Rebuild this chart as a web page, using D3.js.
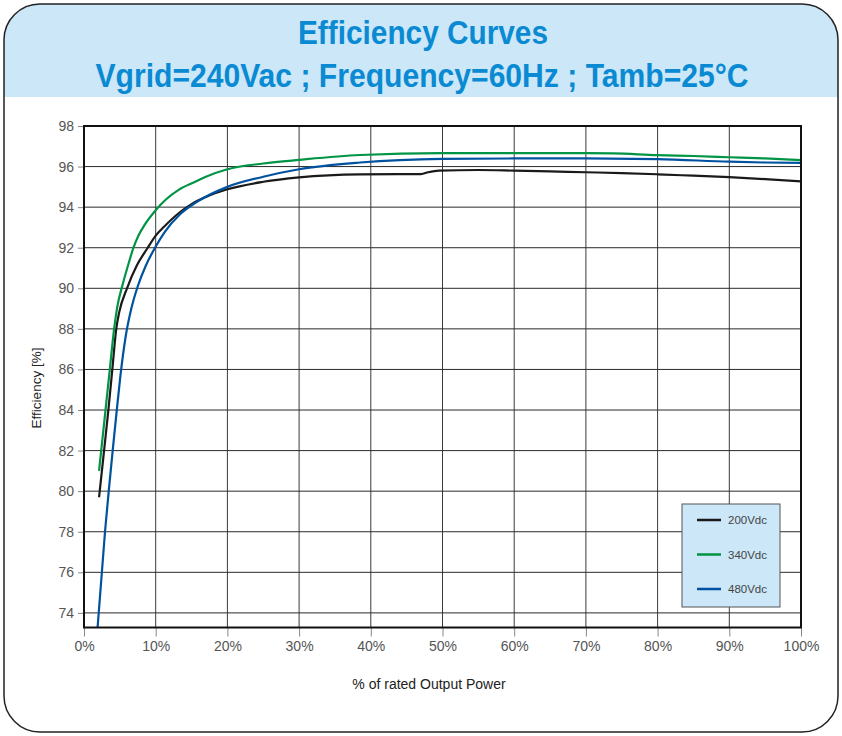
<!DOCTYPE html>
<html><head><meta charset="utf-8">
<script src="https://cdn.jsdelivr.net/npm/d3@7"></script>
<style>body{margin:0;background:#fff}svg{display:block}</style>
</head><body>
<svg id="c" width="842" height="736"></svg>
<script>
const xTicks = [0,10,20,30,40,50,60,70,80,90,100];
const yTicks = [74,76,78,80,82,84,86,88,90,92,94,96,98];
const seriesNames = ["200Vdc","340Vdc","480Vdc"];
const seriesColors = ["#1a1a1a","#009444","#0052a0"];
const power200 = [2.1,2.8,3.4,3.95,4.5,4.9,6.0,7.4,8.8,10,11.2,13.2,15,17,20,25,30,38.5,44,47,48,49.5,55,60,65,70,75,80,85,90,95,100];
const eff200   = [79.7,82,84,86,88,88.8,90,91.15,91.95,92.6,93.05,93.7,94.15,94.5,94.88,95.25,95.47,95.62,95.63,95.63,95.72,95.8,95.83,95.8,95.76,95.72,95.68,95.62,95.55,95.48,95.38,95.27];
const power340 = [2.1,3.0,3.6,4.2,4.6,5.4,6.2,6.9,7.6,8.5,10,11.5,13.2,15.5,17,20,25,30,38.5,50,60,70,73.8,79.9,85,90,95,100];
const eff340   = [81,84,86,88,89.0,90.2,91.2,92.0,92.6,93.15,93.85,94.4,94.85,95.25,95.5,95.87,96.15,96.33,96.57,96.66,96.66,96.66,96.65,96.56,96.52,96.46,96.4,96.32];
const power480 = [1.9,2.93,3.45,4.0,4.5,5.05,5.8,6.6,7.5,8.6,9.9,11.2,13.4,15.7,20,25,30,38.5,50,60,70,80,90,95,100];
const eff480   = [73.3,78.0,80.0,82.0,83.75,85.6,87.6,89.0,90.1,91.1,92.0,92.75,93.65,94.25,95.0,95.5,95.87,96.2,96.38,96.4,96.4,96.37,96.24,96.2,96.18];

const svg = d3.select("#c");
const blue = "#cbe7f8", titleCol = "#0a8ad2";
const FONT = "Liberation Sans, Arial, sans-serif";

// panel
const defs = svg.append("defs");
const pPath = (() => { const r=36, x0=4, y0=4, x1=838, y1=732;
  return `M${x0+r},${y0} H${x1-r} A${r},${r} 0 0 1 ${x1},${y0+r} V${y1-r} A${r},${r} 0 0 1 ${x1-r},${y1} H${x0+r} A${r},${r} 0 0 1 ${x0},${y1-r} V${y0+r} A${r},${r} 0 0 1 ${x0+r},${y0} Z`; })();
defs.append("clipPath").attr("id", "panelClip").append("path").attr("d", pPath);
svg.append("path").attr("d", pPath).attr("fill", "#fff");
svg.append("rect").attr("x",0).attr("y",0).attr("width",842).attr("height",97)
  .attr("fill", blue).attr("clip-path", "url(#panelClip)");
svg.append("path").attr("d", pPath).attr("fill", "none").attr("stroke", "#222").attr("stroke-width", 1.5);

svg.append("text").attr("x",423).attr("y",44).attr("text-anchor","middle")
  .attr("font-family",FONT).attr("font-weight","bold")
  .attr("font-size",33).attr("fill",titleCol)
  .attr("textLength",250).attr("lengthAdjust","spacingAndGlyphs").text("Efficiency Curves");
svg.append("text").attr("x",422).attr("y",87).attr("text-anchor","middle")
  .attr("font-family",FONT).attr("font-weight","bold")
  .attr("font-size",33).attr("fill",titleCol)
  .attr("textLength",653).attr("lengthAdjust","spacingAndGlyphs").text("Vgrid=240Vac ; Frequency=60Hz ; Tamb=25°C");

// plot
const L=84, R=801, T=126, B=627.5;
const x = d3.scaleLinear().domain([0,100]).range([L,R]);
const y = d3.scaleLinear().domain([73.28,98]).range([B,T]);

const g = svg.append("g");
g.append("g").selectAll("line").data(xTicks.slice(1,-1)).join("line")
  .attr("x1",d=>x(d)).attr("x2",d=>x(d)).attr("y1",T).attr("y2",B)
  .attr("stroke","#3a3a3a").attr("stroke-width",1);
g.append("g").selectAll("line").data(yTicks.slice(0,-1)).join("line")
  .attr("x1",L).attr("x2",R).attr("y1",d=>y(d)).attr("y2",d=>y(d))
  .attr("stroke","#2a2a2a").attr("stroke-width",1);

// axes
const yAxis = d3.axisLeft(y).tickValues(yTicks).tickSize(6).tickPadding(4).tickFormat(d3.format("d"));
const ya = svg.append("g").attr("transform",`translate(${L},0)`).call(yAxis);
ya.select(".domain").remove();
ya.selectAll(".tick line").attr("stroke","#888");
ya.selectAll(".tick text").attr("font-family",FONT).attr("font-size",14).attr("fill","#555");

const xAxis = d3.axisBottom(x).tickValues(xTicks).tickSize(9).tickPadding(5).tickFormat(d=>d+"%");
const xa = svg.append("g").attr("transform",`translate(0,${B})`).call(xAxis);
xa.select(".domain").remove();
xa.selectAll(".tick line").attr("stroke","#888");
xa.selectAll(".tick text").attr("font-family",FONT).attr("font-size",14).attr("fill","#555");

// curves
const data = [
  power200.map((p,i)=>[p,eff200[i]]),
  power340.map((p,i)=>[p,eff340[i]]),
  power480.map((p,i)=>[p,eff480[i]])
];
const line = d3.line().x(d=>x(d[0])).y(d=>y(d[1])).curve(d3.curveMonotoneX);
defs.append("clipPath").attr("id","plotClip").append("rect")
  .attr("x",L).attr("y",T).attr("width",R-L).attr("height",B-T);
svg.append("g").attr("clip-path","url(#plotClip)").selectAll("path").data(data).join("path")
  .attr("d",line).attr("fill","none").attr("stroke",(d,i)=>seriesColors[i]).attr("stroke-width",2.2)
  .attr("stroke-linejoin","round");

// frame
svg.append("rect").attr("x",L).attr("y",T).attr("width",R-L).attr("height",B-T)
  .attr("fill","none").attr("stroke","#111").attr("stroke-width",2);

// labels
svg.append("text").attr("transform","translate(41,388) rotate(-90)").attr("text-anchor","middle")
  .attr("font-family",FONT).attr("font-size",13.5).attr("fill","#222")
  .text("Efficiency [%]");
svg.append("text").attr("x",429).attr("y",689).attr("text-anchor","middle")
  .attr("font-family",FONT).attr("font-size",14).attr("fill","#222")
  .text("% of rated Output Power");

// legend
const lg = svg.append("g");
lg.append("rect").attr("x",682).attr("y",504).attr("width",98).attr("height",103)
  .attr("fill",blue).attr("stroke","#555").attr("stroke-width",1);
const ly = d3.scalePoint().domain(seriesNames).range([520,589]);
const items = lg.selectAll("g.it").data(seriesNames).join("g").attr("class","it");
items.append("line").attr("x1",697).attr("x2",721).attr("y1",d=>ly(d)).attr("y2",d=>ly(d))
  .attr("stroke",(d,i)=>seriesColors[i]).attr("stroke-width",2.5);
items.append("text").attr("x",728).attr("y",d=>ly(d)+4).attr("font-family",FONT)
  .attr("font-size",11.5).attr("fill","#444").text(d=>d);
</script>
</body></html>
